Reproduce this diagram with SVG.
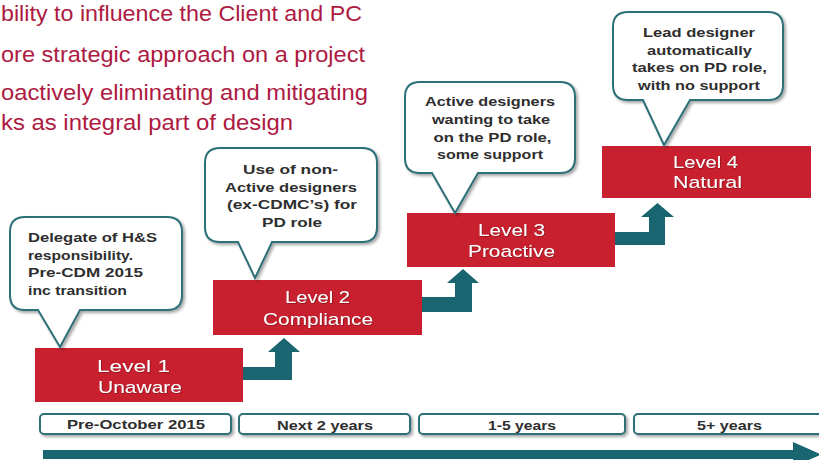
<svg xmlns="http://www.w3.org/2000/svg" width="819" height="460" viewBox="0 0 819 460">
<defs>
<style>
.bullet{font-family:"Liberation Sans",Arial,sans-serif;font-size:22px;fill:#ad1a42}
.lvl{fill:#c8202f}
.lt{font-family:"Liberation Sans",Arial,sans-serif;font-size:17px;fill:#fff;text-anchor:middle}
.co{fill:#fff;stroke:#2d6f78;stroke-width:2}
.ct{font-family:"Liberation Sans",Arial,sans-serif;font-size:13.5px;font-weight:bold;fill:#2e2e2e}
.mid{text-anchor:middle}
.arr{fill:#1a6670}
.tb{fill:#fff;stroke:#2d6f78;stroke-width:2}
.tt{font-family:"Liberation Sans",Arial,sans-serif;font-size:12.5px;font-weight:bold;fill:#2e2e2e;text-anchor:middle}
</style>
<filter id="sh" x="-10%" y="-10%" width="130%" height="140%">
<feDropShadow dx="2" dy="2" stdDeviation="1.5" flood-color="#000" flood-opacity="0.35"/>
</filter>
<filter id="ts" x="-5%" y="-20%" width="110%" height="140%">
<feDropShadow dx="0.6" dy="0.6" stdDeviation="0.4" flood-color="#400" flood-opacity="0.6"/>
</filter>
</defs>

<g id="bullets">
<text class="bullet" x="1" y="21" textLength="361" lengthAdjust="spacingAndGlyphs">bility to influence the Client and PC</text>
<text class="bullet" x="1" y="62" textLength="364" lengthAdjust="spacingAndGlyphs">ore strategic approach on a project</text>
<text class="bullet" x="1" y="100" textLength="367" lengthAdjust="spacingAndGlyphs">oactively eliminating and mitigating</text>
<text class="bullet" x="1" y="130" textLength="292" lengthAdjust="spacingAndGlyphs">ks as integral part of design</text>
</g>

<g id="connectors">
<polygon class="arr" points="243,367 275,367 275,352 268,352 284,338 300,352 292,352 292,380 243,380"/>
<polygon class="arr" points="422,297 455,297 455,283 447,283 463,269 479,283 472,283 472,312 422,312"/>
<polygon class="arr" points="615,232 649,232 649,217 641,217 657.5,203 674,217 665,217 665,245 615,245"/>
<polygon class="arr" points="43,450 793,450 793,442 821,454.5 793,467 793,459 43,459"/>
</g>

<g id="level1">
<rect class="lvl" x="35" y="348" width="208" height="54"/>
<g filter="url(#ts)">
<text class="lt" x="133.5" y="372" textLength="73" lengthAdjust="spacingAndGlyphs">Level 1</text>
<text class="lt" x="140" y="393" textLength="84" lengthAdjust="spacingAndGlyphs">Unaware</text>
</g>
</g>

<g id="level2">
<rect class="lvl" x="213" y="280" width="209" height="55"/>
<g filter="url(#ts)">
<text class="lt" x="317.5" y="303" textLength="65" lengthAdjust="spacingAndGlyphs">Level 2</text>
<text class="lt" x="318" y="325" textLength="110" lengthAdjust="spacingAndGlyphs">Compliance</text>
</g>
</g>

<g id="level3">
<rect class="lvl" x="407" y="213" width="208" height="54"/>
<g filter="url(#ts)">
<text class="lt" x="511.5" y="236" textLength="67" lengthAdjust="spacingAndGlyphs">Level 3</text>
<text class="lt" x="511.5" y="257" textLength="87" lengthAdjust="spacingAndGlyphs">Proactive</text>
</g>
</g>

<g id="level4">
<rect class="lvl" x="602" y="146" width="209" height="52"/>
<g filter="url(#ts)">
<text class="lt" x="705.5" y="168" textLength="65" lengthAdjust="spacingAndGlyphs">Level 4</text>
<text class="lt" x="707.5" y="188" textLength="69" lengthAdjust="spacingAndGlyphs">Natural</text>
</g>
</g>

<g id="callout1">
<path class="co" filter="url(#sh)" d="M25,217 H167 Q182,217 182,232 V295 Q182,310 167,310 H80 L60,347 L38,310 H25 Q10,310 10,295 V232 Q10,217 25,217 Z"/>
<text class="ct" x="28" y="242" textLength="129" lengthAdjust="spacingAndGlyphs">Delegate of H&amp;S</text>
<text class="ct" x="28" y="259.5" textLength="105" lengthAdjust="spacingAndGlyphs">responsibility.</text>
<text class="ct" x="28" y="277" textLength="115" lengthAdjust="spacingAndGlyphs">Pre-CDM 2015</text>
<text class="ct" x="28" y="294.5" textLength="99" lengthAdjust="spacingAndGlyphs">inc transition</text>
</g>

<g id="callout2">
<path class="co" filter="url(#sh)" d="M220,148 H362 Q377,148 377,163 V227 Q377,242 362,242 H272 L255,278 L238,242 H220 Q205,242 205,227 V163 Q205,148 220,148 Z"/>
<text class="ct mid" x="290.5" y="174" textLength="95" lengthAdjust="spacingAndGlyphs">Use of non-</text>
<text class="ct mid" x="291" y="191.5" textLength="132" lengthAdjust="spacingAndGlyphs">Active designers</text>
<text class="ct mid" x="292" y="209" textLength="130" lengthAdjust="spacingAndGlyphs">(ex-CDMC’s) for</text>
<text class="ct mid" x="292" y="226.5" textLength="60" lengthAdjust="spacingAndGlyphs">PD role</text>
</g>

<g id="callout3">
<path class="co" filter="url(#sh)" d="M420,82 H560 Q575,82 575,97 V158 Q575,173 560,173 H478 L455,213 L432,173 H420 Q405,173 405,158 V97 Q405,82 420,82 Z"/>
<text class="ct mid" x="490" y="106" textLength="130" lengthAdjust="spacingAndGlyphs">Active designers</text>
<text class="ct mid" x="491" y="124" textLength="118" lengthAdjust="spacingAndGlyphs">wanting to take</text>
<text class="ct mid" x="492.5" y="141.5" textLength="118" lengthAdjust="spacingAndGlyphs">on the PD role,</text>
<text class="ct mid" x="490" y="159" textLength="106" lengthAdjust="spacingAndGlyphs">some support</text>
</g>

<g id="callout4">
<path class="co" filter="url(#sh)" d="M628,12 H768 Q783,12 783,27 V85 Q783,100 768,100 H690 L664,145 L643,100 H628 Q613,100 613,85 V27 Q613,12 628,12 Z"/>
<text class="ct mid" x="699" y="37" textLength="112" lengthAdjust="spacingAndGlyphs">Lead designer</text>
<text class="ct mid" x="699.5" y="54.5" textLength="105" lengthAdjust="spacingAndGlyphs">automatically</text>
<text class="ct mid" x="699.5" y="72" textLength="135" lengthAdjust="spacingAndGlyphs">takes on PD role,</text>
<text class="ct mid" x="699" y="89.5" textLength="122" lengthAdjust="spacingAndGlyphs">with no support</text>
</g>

<g id="period1">
<rect class="tb" filter="url(#sh)" x="40" y="414" width="191" height="20" rx="4"/>
<text class="tt" x="136" y="429" textLength="138" lengthAdjust="spacingAndGlyphs">Pre-October 2015</text>
</g>
<g id="period2">
<rect class="tb" filter="url(#sh)" x="239" y="414" width="171" height="20" rx="4"/>
<text class="tt" x="325" y="430" textLength="96" lengthAdjust="spacingAndGlyphs">Next 2 years</text>
</g>
<g id="period3">
<rect class="tb" filter="url(#sh)" x="419" y="414" width="206" height="20" rx="4"/>
<text class="tt" x="522" y="430" textLength="68" lengthAdjust="spacingAndGlyphs">1-5 years</text>
</g>
<g id="period4">
<rect class="tb" filter="url(#sh)" x="634" y="414" width="195" height="20" rx="4"/>
<text class="tt" x="729.5" y="430" textLength="65" lengthAdjust="spacingAndGlyphs">5+ years</text>
</g>
</svg>
